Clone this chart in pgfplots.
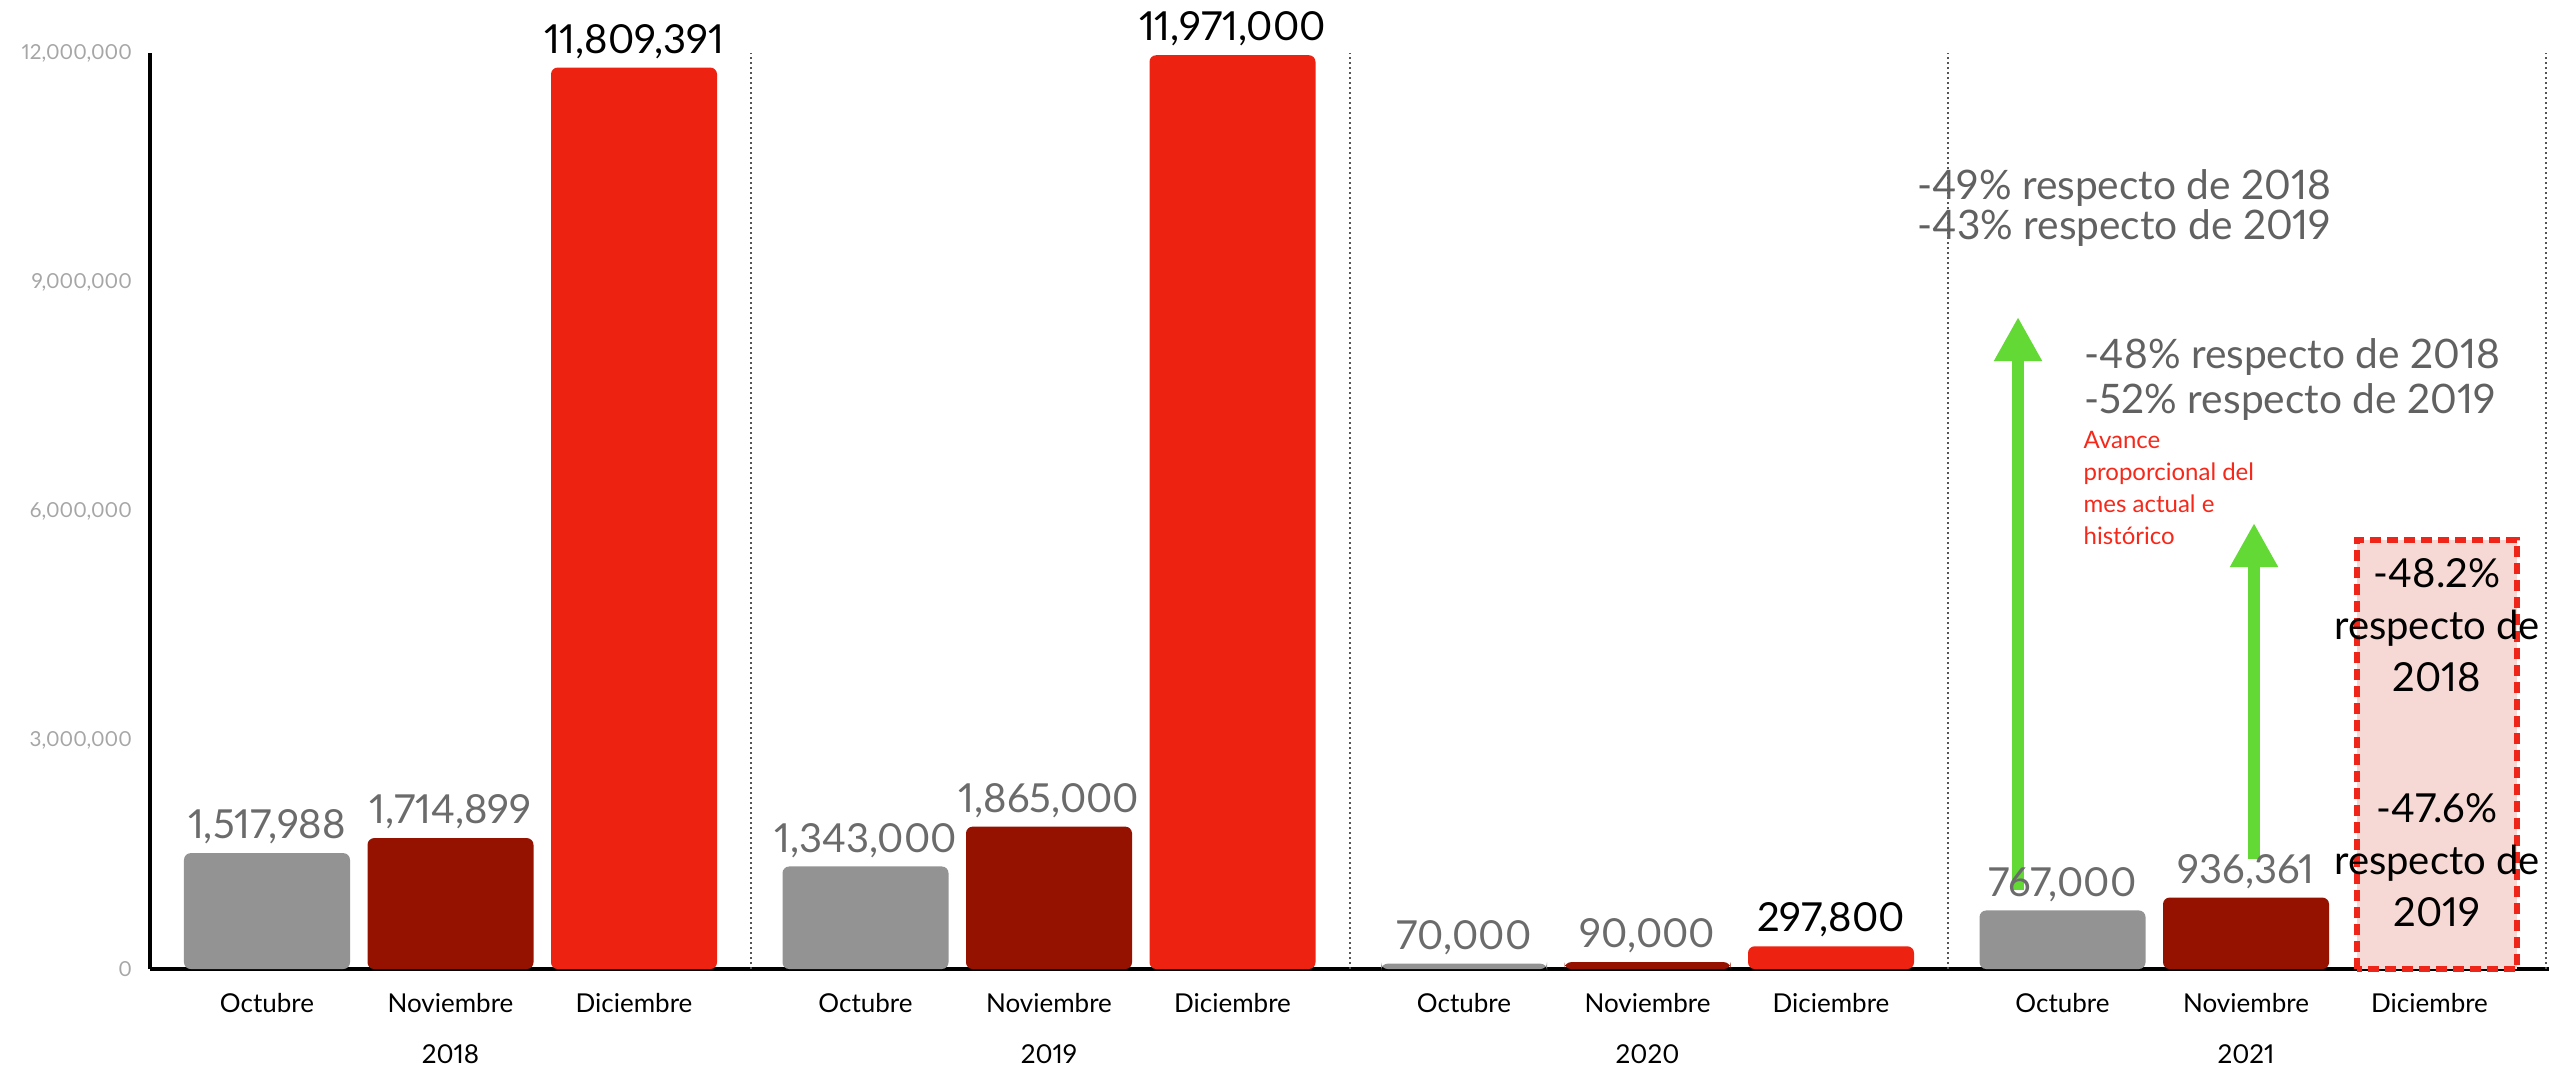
\documentclass[border=0pt]{standalone}
\usepackage{pgfplots}
\pgfplotsset{compat=1.18}
\usepackage{pgfplotstable}
\usepackage{fontspec}
\setmainfont{Lato}[Numbers=Proportional]
\usetikzlibrary{arrows.meta}
\definecolor{barGray}{HTML}{939393}
\definecolor{barDark}{HTML}{961200}
\definecolor{barRed}{HTML}{EE2210}
\definecolor{tickGray}{HTML}{A6A6A6}
\definecolor{labelGray}{HTML}{6B6B6B}
\definecolor{annoGray}{HTML}{616161}
\definecolor{arrowGreen}{HTML}{62D934}
\definecolor{boxFill}{HTML}{F6D9D5}
\definecolor{boxRed}{HTML}{F0251A}
\definecolor{redText}{HTML}{F5281A}
\definecolor{sepGray}{HTML}{555555}

\pgfplotstableread{
x y label
117 1517988 1,517,988
715.5 1343000 1,343,000
1314 70000 70,000
1912.5 767000 767,000
}\oct
\pgfplotstableread{
x y label
300.5 1714899 1,714,899
899 1865000 1,865,000
1497.5 90000 90,000
2096 936361 936,361
}\nov
\pgfplotstableread{
x y label
484 11809391 11,809,391
1082.5 11971000 11,971,000
1681 297800 297,800
}\dic

\begin{document}
\begin{tikzpicture}
\begin{axis}[
 name=ax,
 width=719.7pt, height=274.8pt, scale only axis,
 xmin=0, xmax=2399, ymin=0, ymax=12000000,
 axis x line*=bottom, axis y line*=left,
 x axis line style={line width=1.2pt, black},
 y axis line style={line width=1pt, black},
 major tick length=0pt,
 xtick={117,300.5,484,715.5,899,1082.5,1314,1497.5,1681,1912.5,2096,2279.5},
 xticklabels={Octubre,Noviembre,Diciembre,Octubre,Noviembre,Diciembre,Octubre,Noviembre,Diciembre,Octubre,Noviembre,Diciembre},
 xticklabel style={font=\fontsize{7.8}{9}\selectfont, anchor=center, yshift=-10.2pt},
 ytick={0,3000000,6000000,9000000,12000000},
 yticklabels={0,{3,000,000},{6,000,000},{9,000,000},{12,000,000}},
 yticklabel style={font=\fontsize{6.2}{7.5}\selectfont, text=tickGray, anchor=east, xshift=-1.9pt},
 scaled y ticks=false,
 clip=false,
 ybar, bar shift=0pt, bar width=166,
 point meta=explicit symbolic,
 nodes near coords,
 every node near coord/.append style={font=\fontsize{12}{14}\selectfont, text=labelGray, inner sep=2.5pt, anchor=south},
]
\addplot[fill=barGray, draw=none, rounded corners=2pt] table[x=x,y=y,meta=label]{\oct};
\addplot[fill=barDark, draw=none, rounded corners=2pt] table[x=x,y=y,meta=label]{\nov};
\addplot[fill=barRed, draw=none, rounded corners=2pt, every node near coord/.append style={text=black}] table[x=x,y=y,meta=label]{\dic};

\foreach \s in {601,1200,1798,2396}{
  \edef\temp{\noexpand\draw[sepGray, line width=0.6pt, dash pattern=on 0.6pt off 0.9pt] (axis cs:\s,0) -- (axis cs:\s,12000000);}
  \temp
}

\node[font=\fontsize{7.8}{9}\selectfont] at ([yshift=-25.5pt]axis cs:300.5,0) {2018};
\node[font=\fontsize{7.8}{9}\selectfont] at ([yshift=-25.5pt]axis cs:899,0) {2019};
\node[font=\fontsize{7.8}{9}\selectfont] at ([yshift=-25.5pt]axis cs:1497.5,0) {2020};
\node[font=\fontsize{7.8}{9}\selectfont] at ([yshift=-25.5pt]axis cs:2096,0) {2021};

\draw[draw=boxRed, fill=boxFill, line width=1.6pt, dash pattern=on 3.3pt off 1.8pt] (axis cs:2207,0) rectangle (axis cs:2367,5619900);
\node[align=center, inner sep=0, font=\fontsize{12}{15.6}\selectfont] at (axis cs:2287,4506400) {-48.2\%\\respecto de\\2018};
\node[align=center, inner sep=0, font=\fontsize{12}{15.6}\selectfont] at (axis cs:2287,1427900) {-47.6\%\\respecto de\\2019};

\node[anchor=west, align=left, inner sep=0, text=annoGray, font=\fontsize{12.2}{12}\selectfont] at (axis cs:1767,9969100) {-49\% respecto de 2018\\-43\% respecto de 2019};
\node[anchor=west, align=left, inner sep=0, text=annoGray, font=\fontsize{12.2}{13.5}\selectfont] at (axis cs:1934,7722450) {-48\% respecto de 2018\\-52\% respecto de 2019};
\node[anchor=west, align=left, inner sep=0, text=redText, font=\fontsize{7.2}{9.6}\selectfont] at (axis cs:1933,6307650) {Avance\\proporcional del\\mes actual e\\histórico};

\draw[arrowGreen, line width=3.6pt, -{Triangle[length=13.2pt,width=13.5pt]}] (axis cs:1868,1034900) -- (axis cs:1868,8541200);
\draw[arrowGreen, line width=3.6pt, -{Triangle[length=13.2pt,width=13.5pt]}] (axis cs:2104,1441000) -- (axis cs:2104,5842600);
\end{axis}
\pgfresetboundingbox
\path ([xshift=-45pt,yshift=-28.5pt]ax.south west) rectangle ([yshift=15.9pt]ax.north east);
\end{tikzpicture}
\end{document}
